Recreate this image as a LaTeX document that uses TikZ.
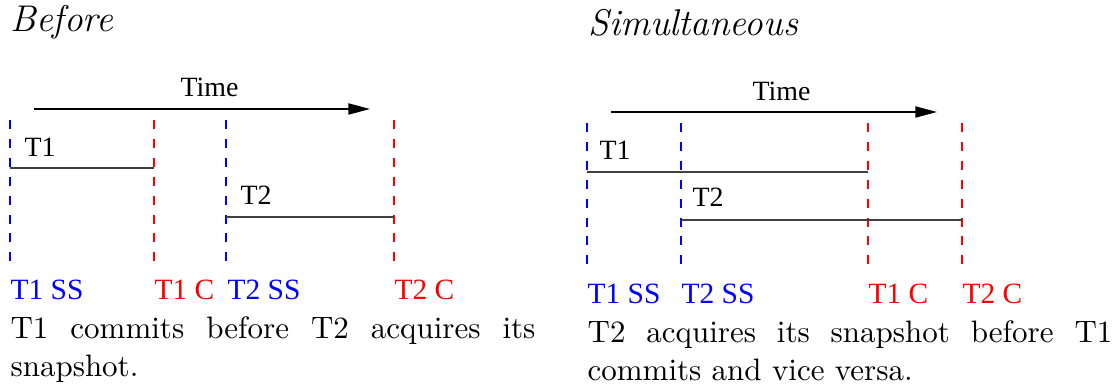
\documentclass[tikz,border=0pt]{standalone}
\usepackage{fontspec}
\usepackage{xcolor}
\usepackage{tikz}
\usetikzlibrary{arrows.meta}
\newfontfamily\figfont{Liberation Serif}
\definecolor{ssblue}{rgb}{0,0,1}
\definecolor{cred}{rgb}{1,0,0}

\tikzset{
  tick/.style={dash pattern=on 2.9pt off 3.2pt, line width=0.45pt},
  span/.style={line width=0.6pt, draw=black!75},
  timeline/.style={line width=0.5pt, -{Triangle[length=7pt,width=3.6pt]}},
  lbl/.style={anchor=base west, inner sep=0pt, font=\figfont\fontsize{9}{10}\selectfont},
  evt/.style={anchor=base west, inner sep=0pt, font=\figfont\fontsize{9.5}{11}\selectfont},
  caption/.style={anchor=base west, inner sep=0pt, text width=169.3pt, align=justify, font=\fontsize{10}{12}\selectfont},
  ttl/.style={anchor=base west, inner sep=0pt, font=\large\itshape},
}

\begin{document}
\begin{tikzpicture}[x=0.3226pt, y=-0.3226pt]
    \useasboundingbox (0,0) rectangle (1116,388);

    % Before
    \node (before) [ttl] at (10,32) {Before};
    \node (btime) [lbl] at (180,97) {Time};
    \coordinate (btstart) at (34,109);
    \coordinate (btend) at (370,109);
    \draw[timeline] (btstart) -- (btend);

    \coordinate (bss1top) at (10,120);   \coordinate (bss1bot) at (10,265);
    \coordinate (bc1top) at (154,120);   \coordinate (bc1bot) at (154,265);
    \coordinate (bss2top) at (226,120);  \coordinate (bss2bot) at (226,265);
    \coordinate (bc2top) at (394,120);   \coordinate (bc2bot) at (394,265);
    \draw[tick, ssblue] (bss1top) -- (bss1bot);
    \draw[tick, cred] (bc1top) -- (bc1bot);
    \draw[tick, ssblue] (bss2top) -- (bss2bot);
    \draw[tick, cred] (bc2top) -- (bc2bot);

    \node (bt1) [lbl] at (24,157) {T1};
    \coordinate (bt1start) at (10,168);
    \coordinate (bt1end) at (154,168);
    \draw[span] (bt1start) -- (bt1end);
    \node (bt2) [lbl] at (240,205) {T2};
    \coordinate (bt2start) at (226,217);
    \coordinate (bt2end) at (394,217);
    \draw[span] (bt2start) -- (bt2end);

    \node (bss1) [evt, text=ssblue] at (10,300) {T1 SS};
    \node (bc1) [evt, text=cred] at (154,300) {T1 C};
    \node (bss2) [evt, text=ssblue] at (227,300) {T2 SS};
    \node (bc2) [evt, text=cred] at (394,300) {T2 C};

    \node (bcap) [caption] at (10,339) {T1 commits before T2 acquires its\linebreak snapshot.};

    % Simultaneous
    \node (simul) [ttl] at (588,36) {Simultaneous};
    \node (stime) [lbl] at (752,101) {Time};
    \coordinate (ststart) at (611,112);
    \coordinate (stend) at (937,112);
    \draw[timeline] (ststart) -- (stend);

    \coordinate (sss1top) at (587,123);  \coordinate (sss1bot) at (587,268);
    \coordinate (sss2top) at (681,123);  \coordinate (sss2bot) at (681,268);
    \coordinate (sc1top) at (868,123);   \coordinate (sc1bot) at (868,268);
    \coordinate (sc2top) at (962,123);   \coordinate (sc2bot) at (962,268);
    \draw[tick, ssblue] (sss1top) -- (sss1bot);
    \draw[tick, ssblue] (sss2top) -- (sss2bot);
    \draw[tick, cred] (sc1top) -- (sc1bot);
    \draw[tick, cred] (sc2top) -- (sc2bot);

    \node (st1) [lbl] at (599,160) {T1};
    \coordinate (st1start) at (587,172);
    \coordinate (st1end) at (868,172);
    \draw[span] (st1start) -- (st1end);
    \node (st2) [lbl] at (692,207) {T2};
    \coordinate (st2start) at (681,220);
    \coordinate (st2end) at (962,220);
    \draw[span] (st2start) -- (st2end);

    \node (sss1) [evt, text=ssblue] at (587,304) {T1 SS};
    \node (sss2) [evt, text=ssblue] at (681,304) {T2 SS};
    \node (sc1) [evt, text=cred] at (868,304) {T1 C};
    \node (sc2) [evt, text=cred] at (962,304) {T2 C};

    \node (scap) [caption] at (587,343) {T2 acquires its snapshot before T1\linebreak commits and vice versa.};
\end{tikzpicture}
\end{document}
